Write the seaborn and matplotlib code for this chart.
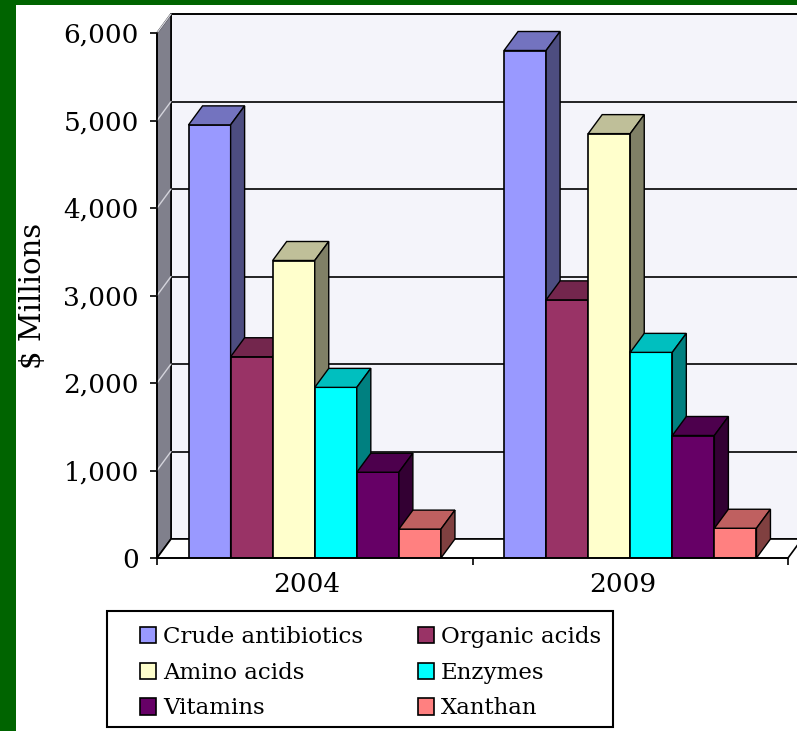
"""Biotech product sales, 2004 vs 2009 ($ millions) - 3D-style clustered bars."""
import matplotlib
matplotlib.use('Agg')
import matplotlib.pyplot as plt
from matplotlib.colors import to_rgb
from matplotlib.patches import Patch, Polygon, Rectangle
from matplotlib.ticker import FuncFormatter
import numpy as np
import pandas as pd
import seaborn as sns


YEARS = ['2004', '2009']
PRODUCTS = ['Crude antibiotics', 'Organic acids', 'Amino acids',
            'Enzymes', 'Vitamins', 'Xanthan']
SALES_2004 = [4950, 2300, 3400, 1950, 980, 330]
SALES_2009 = [5800, 2950, 4850, 2350, 1400, 340]
COLORS = ['#9999ff', '#993366', '#ffffcc', '#00ffff', '#660066', '#ff8080']
Y_TICKS = [0, 1000, 2000, 3000, 4000, 5000, 6000]

W, H, DPI = 797, 731, 100
# front plane of the plot area, in pixels, and the fake 3D depth offset
X0, X1, Y_TOP, Y_BOT = 157, 788, 33, 558
DEPTH_PX = (14, 19)
# legend frame, pixels (left, top, right, bottom)
LEG_BOX = (107, 611, 613, 727)


def shade(color, f):
    r, g, b = to_rgb(color)
    return (r * f, g * f, b * f)


def main() -> None:
    df = pd.DataFrame({
        'year': np.repeat(YEARS, len(PRODUCTS)),
        'product': PRODUCTS * len(YEARS),
        'sales': SALES_2004 + SALES_2009,
    })

    sns.set_style('white')
    plt.rcParams['font.family'] = ['DejaVu Serif']
    plt.rcParams['text.color'] = 'black'

    fig = plt.figure(figsize=(W / DPI, H / DPI), dpi=DPI)
    fig.patch.set_facecolor('white')
    ax = fig.add_axes([X0 / W, 1 - Y_BOT / H, (X1 - X0) / W, (Y_BOT - Y_TOP) / H])
    ax.set_facecolor('none')

    sns.barplot(data=df, x='year', y='sales', hue='product', hue_order=PRODUCTS,
                palette=COLORS, width=0.8, gap=0, saturation=1,
                edgecolor='black', linewidth=1.2, legend=False, ax=ax)
    bars = sorted(ax.patches, key=lambda p: p.get_x())

    ymax = Y_TICKS[-1]
    ax.set_xlim(-0.5, len(YEARS) - 0.5)
    ax.set_ylim(0, ymax)
    xl, xr = ax.get_xlim()
    dx = DEPTH_PX[0] * (xr - xl) / (X1 - X0)
    dy = DEPTH_PX[1] * ymax / (Y_BOT - Y_TOP)

    # walls and floor
    ax.add_patch(Rectangle((xl + dx, dy), xr - xl, ymax, facecolor='#f4f4fa',
                           edgecolor='black', lw=1.2, zorder=0.5, clip_on=False))
    ax.add_patch(Polygon([(xl, 0), (xl + dx, dy), (xl + dx, ymax + dy), (xl, ymax)],
                         facecolor='#80808c', edgecolor='black', lw=1.2,
                         zorder=0.6, clip_on=False))
    ax.add_patch(Polygon([(xl, 0), (xr, 0), (xr + dx, dy), (xl + dx, dy)],
                         facecolor='white', edgecolor='black', lw=1.2,
                         zorder=0.6, clip_on=False))
    for v in Y_TICKS[1:]:
        ax.plot([xl + dx, xr + dx], [v + dy, v + dy], color='black', lw=1.2,
                zorder=0.7, clip_on=False)
        ax.plot([xl, xl + dx], [v, v + dy], color='#d4d4dc', lw=1,
                zorder=0.7, clip_on=False)

    # extrude bars: left-to-right so each bar hides the previous one's side
    for i, p in enumerate(bars):
        z = 2 + 0.01 * i
        x0, w, h = p.get_x(), p.get_width(), p.get_height()
        fc = p.get_facecolor()
        p.set_zorder(z)
        ax.add_patch(Polygon([(x0, h), (x0 + dx, h + dy), (x0 + w + dx, h + dy), (x0 + w, h)],
                             facecolor=shade(fc, 0.75), edgecolor='black', lw=1,
                             zorder=z, clip_on=False))
        ax.add_patch(Polygon([(x0 + w, 0), (x0 + w, h), (x0 + w + dx, h + dy), (x0 + w + dx, dy)],
                             facecolor=shade(fc, 0.5), edgecolor='black', lw=1,
                             zorder=z, clip_on=False))

    for side in ('top', 'right'):
        ax.spines[side].set_visible(False)
    for side in ('left', 'bottom'):
        ax.spines[side].set_color('black')
        ax.spines[side].set_linewidth(1.2)
        ax.spines[side].set_zorder(5)

    ax.set_yticks(Y_TICKS)
    ax.yaxis.set_major_formatter(FuncFormatter(lambda v, _: f'{v:,.0f}'))
    ax.set_xticks(np.arange(len(YEARS) + 1) - 0.5)
    ax.set_xticklabels([''] * (len(YEARS) + 1))
    ax.set_xticks(np.arange(len(YEARS)) - 0.025, minor=True)
    ax.set_xticklabels(YEARS, minor=True)
    ax.tick_params(axis='both', which='major', direction='out', length=5, width=1.2,
                   color='black', labelsize=19, labelcolor='black',
                   left=True, bottom=True, pad=8)
    ax.tick_params(axis='x', which='minor', length=0, labelsize=19,
                   labelcolor='black', pad=10)
    ax.set_xlabel('')
    ax.set_ylabel('$ Millions', fontsize=21, color='black')
    ax.yaxis.set_label_coords(-0.175, 0.5)

    handles = [Patch(facecolor=c, edgecolor='black', lw=1.2) for c in COLORS]
    order = [0, 2, 4, 1, 3, 5]
    fig.legend([handles[k] for k in order], [PRODUCTS[k] for k in order],
               ncol=2, loc='upper left',
               bbox_to_anchor=(140 / W, 1 - 626 / H),
               borderaxespad=0, borderpad=0, fontsize=16.5, frameon=False,
               handlelength=0.7, handleheight=0.7, handletextpad=0.3,
               labelspacing=0.6, columnspacing=2.4, labelcolor='black')
    bl, bt, br, bb = LEG_BOX
    fig.add_artist(Rectangle((bl / W, 1 - bb / H), (br - bl) / W, (bb - bt) / H,
                             transform=fig.transFigure, facecolor='none',
                             edgecolor='black', lw=1.5))

    # green slide frame on the left and top
    fig.add_artist(Rectangle((0, 0), 16 / W, 1, transform=fig.transFigure,
                             facecolor='#006400', edgecolor='none', zorder=10))
    fig.add_artist(Rectangle((0, 1 - 5 / H), 1, 5 / H, transform=fig.transFigure,
                             facecolor='#006400', edgecolor='none', zorder=10))

    fig.savefig('out.png', dpi=DPI)


if __name__ == '__main__':
    main()
